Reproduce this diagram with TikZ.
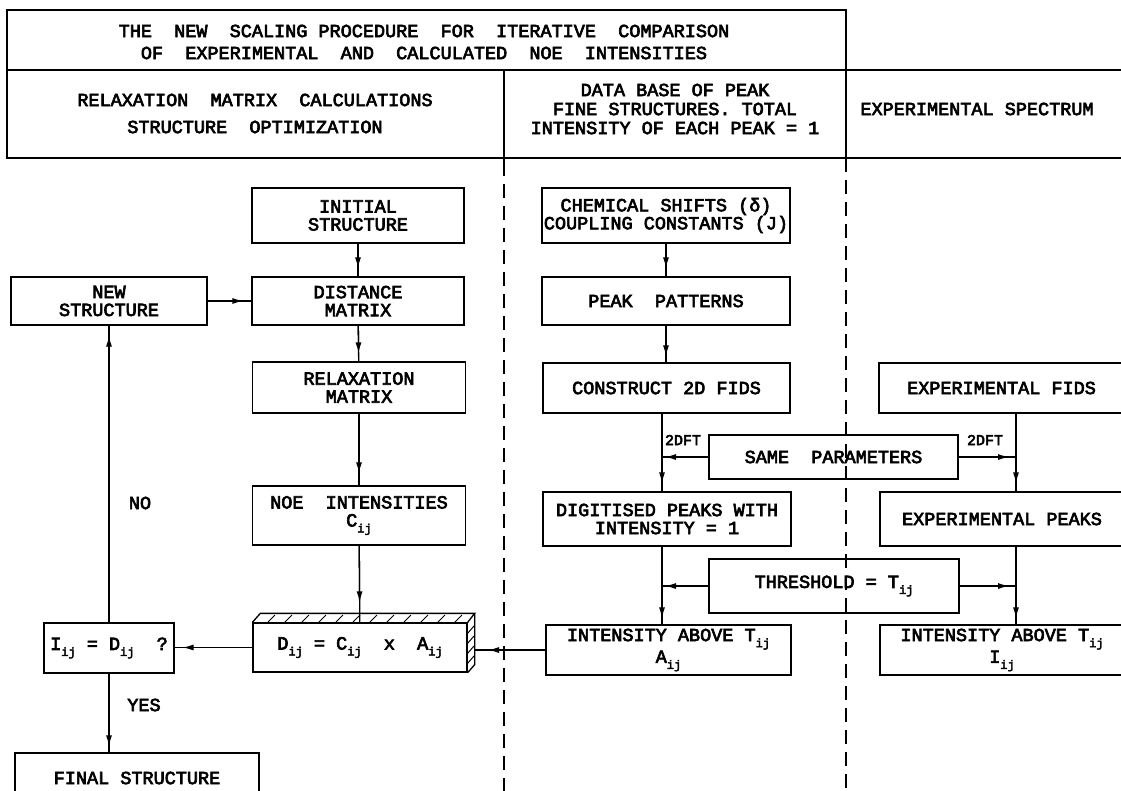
\documentclass[tikz,border=0pt]{standalone}
\usepackage{fontspec}
\newfontfamily\plotfont{Liberation Mono}[FakeBold=3.5]
\usetikzlibrary{arrows.meta,calc}
\newcommand{\sbij}{\raisebox{-6pt}{\fontsize{12}{12}\selectfont ij}}
\begin{document}
\begin{tikzpicture}[x=1pt,y=-1pt,
  font=\plotfont\fontsize{18.5}{18}\selectfont,
  line width=1.3pt,
  box/.style={draw, align=center, inner sep=0pt},
  lbl/.style={inner sep=0pt},
  small/.style={inner sep=0pt, font=\plotfont\fontsize{15}{15}\selectfont},
  dashline/.style={dash pattern=on 14pt off 8pt},
  arr/.style={postaction={draw, -{Latex[length=11pt,width=6pt]}, shorten >=#1}},
  arr/.default=8pt]
\fill[white] (0,0) rectangle (1121,790);
\useasboundingbox (0,0) rectangle (1121,790);

% header
\draw (7,70) -- (7,10) -- (846,10) -- (846,158);
\draw (7,70) -- (1125,70);
\draw (7,70) -- (7,158) -- (1125,158);
\draw (504,70) -- (504,162);
\draw[dashline] (504,162) -- (504,795);
\draw[dashline] (846,158) -- (846,795);

\node[lbl] (t1) at (424,31) {THE~~NEW~~SCALING PROCEDURE~~FOR~~ITERATIVE~~COMPARISON};
\node[lbl] (t2) at (424,53) {OF~~EXPERIMENTAL~~AND~~CALCULATED~~NOE~~INTENSITIES};
\node[lbl] (h1a) at (255,100) {RELAXATION~~MATRIX~~CALCULATIONS};
\node[lbl] (h1b) at (255,127) {STRUCTURE~~OPTIMIZATION};
\node[lbl] (h2a) at (675,90) {DATA BASE OF PEAK};
\node[lbl] (h2b) at (675,109) {FINE STRUCTURES. TOTAL};
\node[lbl] (h2c) at (675,128) {INTENSITY OF EACH PEAK = 1};
\node[lbl] (h3) at (977,109) {EXPERIMENTAL SPECTRUM};

% column 1
\node[box,minimum width=212pt,minimum height=55pt] (initial) at (358,215.5) {INITIAL\\STRUCTURE};
\node[box,minimum width=196pt,minimum height=48pt] (new) at (109,301) {NEW\\STRUCTURE};
\node[box,minimum width=212pt,minimum height=48pt] (dist) at (358,301) {DISTANCE\\MATRIX};
\node[box,minimum width=213pt,minimum height=51pt] (relax) at (359,387.5) {RELAXATION\\MATRIX};
\node[box,minimum width=213pt,minimum height=59pt] (noe) at (359,515.5) {NOE~~INTENSITIES\\C\sbij};
\node[box,minimum width=214pt,minimum height=49pt] (dbox) at (360,647.5) {D\sbij{} = C\sbij{}~~x~~A\sbij};
\node[box,minimum width=130pt,minimum height=50pt] (iij) at (109,648) {I\sbij{} = D\sbij{}~~?};
\node[box,minimum width=244pt,minimum height=50pt] (final) at (137,778) {FINAL STRUCTURE};

% hatched top and side of D box
\draw (dbox.north west) -- ++(8,-9) -- ($(dbox.north east)+(7,-9)$) -- (dbox.north east);
\draw ($(dbox.north east)+(7,-9)$) -- ($(dbox.south east)+(7,-8)$) -- (dbox.south east);
\foreach \x in {268,285,...,455} \draw[line width=1pt] (\x,622) -- (\x+7,615);
\foreach \y in {634,644,...,670} \draw[line width=1pt] (467,\y) -- (474,\y-8);
\coordinate (dright) at (474,646);

% column 2
\node[box,minimum width=248pt,minimum height=55pt] (chem) at (666,215.5) {CHEMICAL SHIFTS (δ)\\COUPLING CONSTANTS (J)};
\node[box,minimum width=248pt,minimum height=48pt] (peak) at (666,301) {PEAK~~PATTERNS};
\node[box,minimum width=247pt,minimum height=50pt] (constr) at (666.5,388) {CONSTRUCT 2D FIDS};
\node[box,minimum width=248pt,minimum height=54pt] (dig) at (667,519) {DIGITISED PEAKS WITH\\INTENSITY = 1};
\node[box,minimum width=245pt,minimum height=50pt] (inta) at (668.5,650) {INTENSITY ABOVE T\sbij\\A\sbij};

% middle
\node[box,minimum width=249pt,minimum height=44pt] (same) at (833.5,457) {SAME~~PARAMETERS};
\node[box,minimum width=250pt,minimum height=54pt] (thresh) at (834,586) {THRESHOLD = T\sbij};

% column 3
\node[box,minimum width=245pt,minimum height=50pt] (expfids) at (1001.5,388) {EXPERIMENTAL FIDS};
\node[box,minimum width=244pt,minimum height=54pt] (exppeaks) at (1002,519) {EXPERIMENTAL PEAKS};
\node[box,minimum width=244pt,minimum height=50pt] (inti) at (1002,650) {INTENSITY ABOVE T\sbij\\I\sbij};

\coordinate (lx) at (662,0);
\coordinate (rx) at (1016,0);

% labels
\node[lbl] (no) at (140,503) {NO};
\node[lbl] (yes) at (144,705) {YES};
\node[small] (f1) at (683,440) {2DFT};
\node[small] (f2) at (985,440) {2DFT};

% connectors
\draw[arr] (initial) -- (dist);
\draw[arr] (new) -- (dist);
\draw[arr] (dist) -- (relax);
\draw[arr=12pt] (relax) -- (noe);
\draw[arr=20pt] (noe) -- (dbox);
\draw[arr] (dbox.west) -- (dbox.west -| iij.east);
\draw[arr=10pt] (iij) -- (new);
\draw[arr=6pt] (iij.south) -- (iij.south |- final.north);
\draw[arr=14pt] (inta.west) -- (inta.west -| dright);
\draw[arr] (chem) -- (peak);
\draw[arr=6pt] (peak.south) -- (peak.south |- constr.north);
\draw[arr] (constr.south -| lx) -- (dig.north -| lx);
\draw[arr=3pt] (same.west) -- (same.west -| lx);
\draw[arr=7pt] (same.east) -- (same.east -| rx);
\draw[arr] (expfids.south -| rx) -- (exppeaks.north -| rx);
\draw[arr=6pt] (dig.south -| lx) -- (inta.north -| lx);
\draw[arr=3pt] (thresh.west) -- (thresh.west -| lx);
\draw[arr=7pt] (thresh.east) -- (thresh.east -| rx);
\draw[arr=6pt] (exppeaks.south -| rx) -- (inti.north -| rx);
\end{tikzpicture}
\end{document}
